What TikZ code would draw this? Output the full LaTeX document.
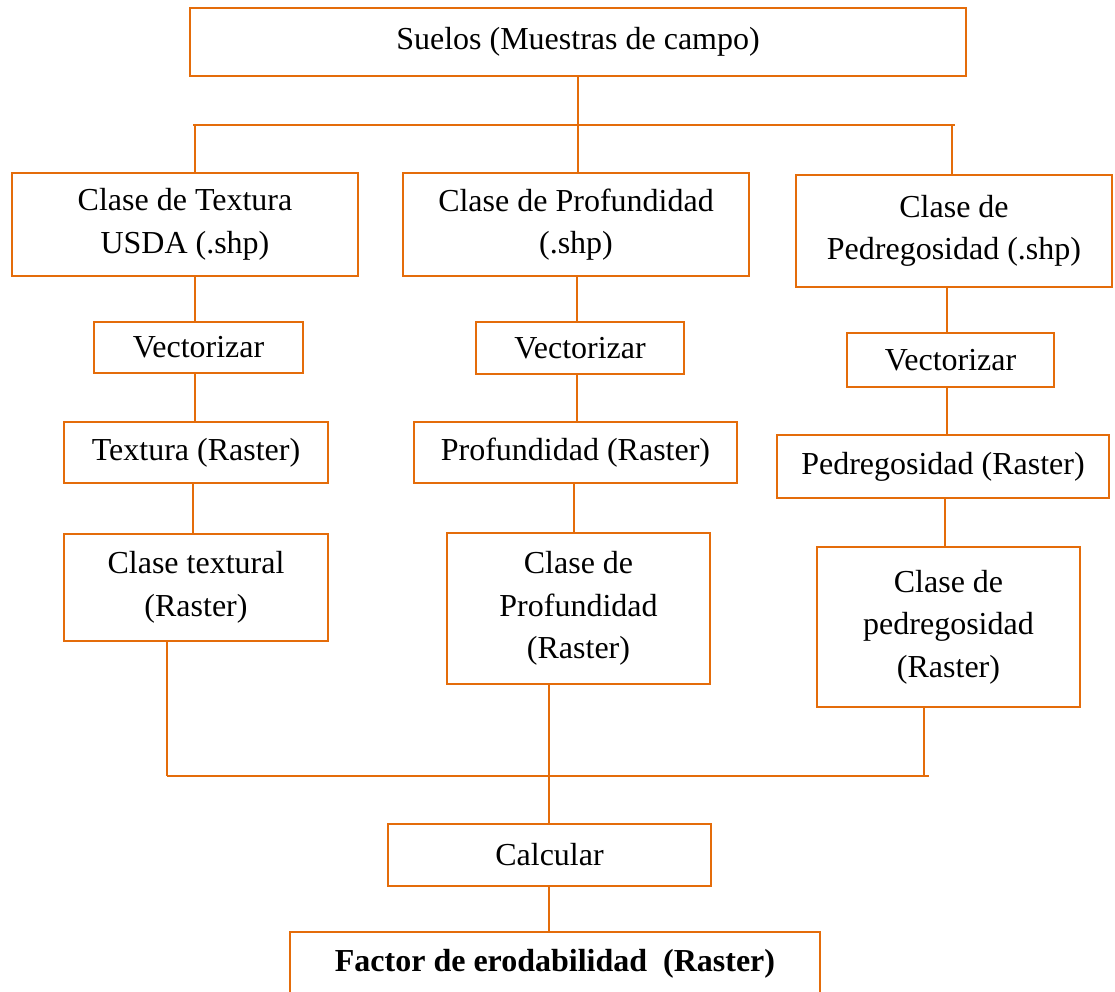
\documentclass[tikz,border=0pt]{standalone}
\usepackage{fontspec}
\setmainfont{Liberation Serif}
\definecolor{orangeline}{RGB}{228,108,10}
\tikzset{
  box/.style={draw=orangeline, line width=2.8pt, rectangle, inner sep=0pt, outer sep=0pt,
    align=center, text=black, font=\fontsize{32pt}{42.5pt}\selectfont},
  conn/.style={draw=orangeline, line width=2.8pt}
}
\begin{document}
\begin{tikzpicture}[x=1pt,y=-1pt]
\useasboundingbox (0,0) rectangle (1115,991);
% nodes
\node[box, minimum width=776pt, minimum height=68pt] (top) at (578,42) {Suelos (Muestras de campo)};
\node[box, minimum width=346pt, minimum height=103pt] (b1) at (185,224.5) {Clase de Textura\\USDA (.shp)};
\node[box, minimum width=346pt, minimum height=103pt] (b2) at (576,224.5) {Clase de Profundidad\\(.shp)};
\node[box, minimum width=316pt, minimum height=112pt] (b3) at (954,231) {Clase de\\Pedregosidad (.shp)};
\node[box, minimum width=209pt, minimum height=51pt] (v1) at (198.5,347.5) {Vectorizar};
\node[box, minimum width=208pt, minimum height=52pt] (v2) at (580,348) {Vectorizar};
\node[box, minimum width=207pt, minimum height=54pt] (v3) at (950.5,360) {Vectorizar};
\node[box, minimum width=264pt, minimum height=61pt] (r1) at (196,452.5) {Textura (Raster)};
\node[box, minimum width=323pt, minimum height=61pt] (r2) at (575.5,452.5) {Profundidad (Raster)};
\node[box, minimum width=332pt, minimum height=63pt] (r3) at (943,466.5) {Pedregosidad (Raster)};
\node[box, minimum width=264pt, minimum height=107pt] (c1) at (196,587.5) {Clase textural\\(Raster)};
\node[box, minimum width=263pt, minimum height=151pt] (c2) at (578.5,608.5) {Clase de\\Profundidad\\(Raster)};
\node[box, minimum width=263pt, minimum height=160pt] (c3) at (948.5,627) {Clase de\\pedregosidad\\(Raster)};
\node[box, minimum width=323pt, minimum height=62pt] (calc) at (549.5,855) {Calcular};
\node[box, minimum width=530pt, minimum height=64pt] (fac) at (555,964) {\bfseries Factor de erodabilidad\ \ (Raster)};
% bus coordinates
\coordinate (tbL) at (193,125);
\coordinate (tbR) at (955,125);
\coordinate (bbL) at (167,776);
\coordinate (bbR) at (929,776);
\coordinate (xa) at (195,0);
\coordinate (xb) at (578,0);
\coordinate (xc) at (952,0);
\coordinate (x1) at (195,0);
\coordinate (x1b) at (193,0);
\coordinate (x1c) at (167,0);
\coordinate (x2) at (577,0);
\coordinate (x2b) at (574,0);
\coordinate (x2c) at (549,0);
\coordinate (x3) at (947,0);
\coordinate (x3b) at (945,0);
\coordinate (x3c) at (924,0);
% top bus
\draw[conn] (xb |- top.south) -- (xb |- tbL);
\draw[conn] (tbL) -- (tbR);
\draw[conn] (xa |- tbL) -- (xa |- b1.north);
\draw[conn] (xb |- tbL) -- (xb |- b2.north);
\draw[conn] (xc |- tbL) -- (xc |- b3.north);
% column 1
\draw[conn] (x1 |- b1.south) -- (x1 |- v1.north);
\draw[conn] (x1 |- v1.south) -- (x1 |- r1.north);
\draw[conn] (x1b |- r1.south) -- (x1b |- c1.north);
\draw[conn] (x1c |- c1.south) -- (x1c |- bbL);
% column 2
\draw[conn] (x2 |- b2.south) -- (x2 |- v2.north);
\draw[conn] (x2 |- v2.south) -- (x2 |- r2.north);
\draw[conn] (x2b |- r2.south) -- (x2b |- c2.north);
\draw[conn] (x2c |- c2.south) -- (x2c |- bbL);
% column 3
\draw[conn] (x3 |- b3.south) -- (x3 |- v3.north);
\draw[conn] (x3 |- v3.south) -- (x3 |- r3.north);
\draw[conn] (x3b |- r3.south) -- (x3b |- c3.north);
\draw[conn] (x3c |- c3.south) -- (x3c |- bbR);
% bottom bus
\draw[conn] (bbL) -- (bbR);
\draw[conn] (x2c |- bbL) -- (x2c |- calc.north);
\draw[conn] (x2c |- calc.south) -- (x2c |- fac.north);
\end{tikzpicture}
\end{document}
